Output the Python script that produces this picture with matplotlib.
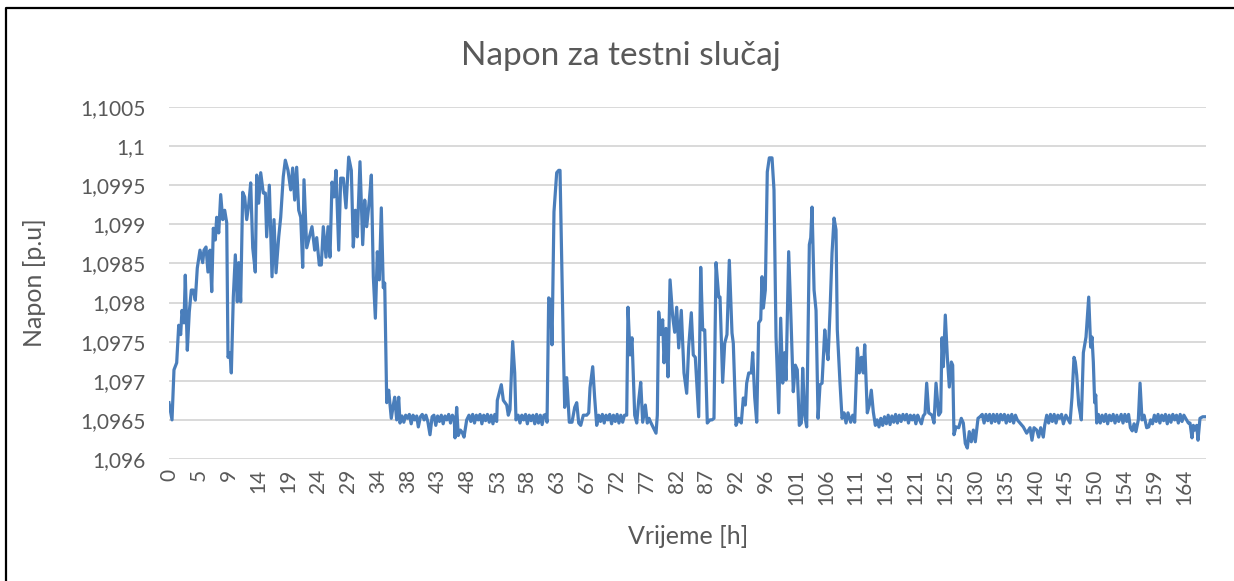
import matplotlib
matplotlib.use("Agg")
import matplotlib.pyplot as plt
from matplotlib.ticker import FuncFormatter, MultipleLocator
from matplotlib.lines import Line2D

# vrijeme [h] i napon [p.u], ocitano sa slike
hours = [
    0.0, 0.49, 0.81, 1.25, 1.58, 1.90, 2.11, 2.44, 2.65, 2.98, 3.30, 3.63, 3.95, 4.28, 4.60,
    5.04, 5.48, 5.69, 6.02, 6.34, 6.67, 6.95, 7.21, 7.53, 7.76, 8.09, 8.41, 8.74, 9.06, 9.39,
    9.60, 9.92, 10.14, 10.46, 10.79, 11.11, 11.34, 11.66, 11.99, 12.31, 12.64, 12.97, 13.29,
    13.62, 14.04, 14.27, 14.59, 14.92, 15.34, 15.67, 15.89, 16.32, 16.76, 17.08, 17.41, 17.85,
    18.17, 18.59, 18.92, 19.36, 19.80, 20.12, 20.45, 20.77, 21.10, 21.43, 21.75, 21.96, 22.40,
    22.82, 23.26, 23.70, 24.03, 24.45, 24.78, 25.10, 25.54, 25.87, 26.19, 26.52, 26.84, 27.17,
    27.61, 27.93, 28.36, 28.79, 29.23, 29.66, 29.98, 30.31, 30.63, 31.07, 31.51, 31.84, 32.16,
    32.59, 32.92, 33.24, 33.57, 33.89, 34.22, 34.54, 34.86, 35.09, 35.42, 35.74, 36.16, 36.49,
    36.72, 37.04, 37.37, 37.58,
    37.9, 38.2, 38.5, 38.8, 39.1, 39.4, 39.7, 40.0, 40.3, 40.56, 40.9, 41.2, 41.5, 41.8, 42.1,
    42.46, 42.8, 43.1, 43.4, 43.7, 44.0, 44.3, 44.6, 44.9, 45.2, 45.5, 45.8, 46.1, 46.4, 46.53,
    46.80, 47.06, 47.4, 47.7, 47.99, 48.43, 48.8, 49.1, 49.4, 49.7, 50.0, 50.3, 50.6, 50.9,
    51.2, 51.5, 51.8, 52.1, 52.4, 52.7, 53.0, 53.31,
    53.41, 54.06, 54.39, 54.94, 55.20, 55.47, 55.91, 56.24, 56.45,
    56.8, 57.1, 57.4, 57.7, 58.0, 58.3, 58.6, 58.9, 59.2, 59.5, 59.8, 60.1, 60.4, 60.7, 61.0,
    61.3, 61.5,
    61.77, 62.10, 62.31, 62.63, 63.07, 63.40, 63.61, 64.14, 64.37, 64.70, 65.12, 65.56, 66.00,
    66.33, 66.65, 66.98, 67.40, 67.95, 68.28, 68.49, 68.93, 69.25, 69.58,
    69.9, 70.2, 70.5, 70.8, 71.1, 71.4, 71.7, 72.0, 72.3, 72.6, 72.9, 73.2, 73.5, 73.8, 74.1,
    74.46, 74.67, 75.00, 75.32, 75.76, 76.09, 76.41, 76.74, 77.06, 77.49, 77.81, 78.09, 78.36,
    78.79, 79.23, 79.44, 79.66, 79.99, 80.31, 80.53, 80.85, 81.18, 81.51, 81.94, 82.27, 82.59,
    82.92, 83.34, 83.78, 84.22, 84.54, 84.97, 85.29, 85.62, 86.17, 86.50, 86.82, 87.15, 87.57,
    88.01, 88.34, 88.66, 88.99, 89.43, 89.64, 90.07, 90.40, 90.77, 91.15, 91.59, 91.80, 92.24,
    92.68, 93.10, 93.43, 93.75, 93.98, 94.31, 94.73, 94.96, 95.28, 95.61, 95.93, 96.26, 96.47,
    96.69, 97.01, 97.33, 97.66, 98.10, 98.42, 98.75, 99.19, 99.51, 99.84, 100.16, 100.38,
    100.81, 101.14, 101.56, 101.89, 102.21, 102.54, 102.87, 103.09, 103.42, 103.74, 104.17,
    104.40, 104.61, 104.94, 105.26, 105.59, 105.91, 106.24, 106.68, 106.89, 107.21, 107.54,
    107.86, 108.19, 108.51, 108.72, 109.16, 109.49, 109.82, 110.14, 110.46, 110.90, 111.23,
    111.55, 111.98, 112.30, 112.63, 112.95, 113.18, 113.60, 113.93, 114.25, 114.58, 114.91,
    115.2, 115.5, 115.8, 116.1, 116.4, 116.7, 117.0, 117.3, 117.6, 117.9, 118.2, 118.5, 118.8,
    119.1, 119.4, 119.7, 120.0, 120.3, 120.6, 120.9, 121.2, 121.5, 121.8, 122.1, 122.4, 122.7,
    122.99, 123.26, 123.59, 124.13, 124.45, 124.78, 125.22, 125.54, 125.75, 125.97, 126.29,
    126.62, 126.94, 127.27, 127.49, 127.70, 128.03, 128.47, 128.89, 129.22, 129.54, 129.87,
    130.19, 130.52, 130.85, 131.17, 131.61, 131.93,
    132.3, 132.6, 132.9, 133.2, 133.5, 133.8, 134.1, 134.4, 134.7, 135.0, 135.3, 135.6, 135.9,
    136.2, 136.5, 136.8, 137.1, 137.4, 137.7, 138.0,
    138.44, 138.98, 139.53, 140.07, 140.39, 140.72, 141.16, 141.48, 141.81, 142.23, 142.46,
    142.79, 143.1, 143.4, 143.7, 144.0, 144.3, 144.6, 144.9, 145.2, 145.5, 145.9,
    146.58, 146.90, 147.23, 147.44, 147.67, 148.00, 148.42, 148.75, 149.18, 149.62, 149.94,
    150.15, 150.37, 150.59, 150.76, 150.92,
    151.2, 151.5, 151.8, 152.1, 152.4, 152.7, 153.0, 153.3, 153.6, 153.9, 154.2, 154.5, 154.9,
    155.2, 155.5, 155.8, 156.1, 156.4, 156.7, 157.0, 157.3, 157.69, 157.97, 158.29, 158.62,
    159.05, 159.38,
    159.7, 160.0, 160.3, 160.6, 160.9, 161.2, 161.5, 161.8, 162.1, 162.4, 162.7, 163.0, 163.3,
    163.6, 163.9, 164.2, 164.5, 164.8, 165.1,
    165.83, 166.10, 166.42, 166.64, 166.86, 167.19, 167.40, 167.72, 168.16, 168.59,
]

napon = [
    1.09672, 1.09650, 1.09714, 1.09723, 1.09771, 1.09759, 1.09790, 1.09774, 1.09835, 1.09739,
    1.09788, 1.09816, 1.09816, 1.09803, 1.09844, 1.09867, 1.09851, 1.09867, 1.09871, 1.09839,
    1.09867, 1.09814, 1.09895, 1.09880, 1.09909, 1.09889, 1.09938, 1.09906, 1.09918, 1.09902,
    1.09730, 1.09736, 1.09710, 1.09807, 1.09861, 1.09801, 1.09851, 1.09801, 1.09941, 1.09935,
    1.09906, 1.09925, 1.09953, 1.09870, 1.09839, 1.09963, 1.09927, 1.09966, 1.09940, 1.09940,
    1.09884, 1.09950, 1.09833, 1.09906, 1.09838, 1.09884, 1.09909, 1.09961, 1.09982, 1.09969,
    1.09944, 1.09972, 1.09931, 1.09973, 1.09918, 1.09909, 1.09845, 1.09957, 1.09870, 1.09883,
    1.09897, 1.09867, 1.09883, 1.09848, 1.09848, 1.09897, 1.09858, 1.09897, 1.09858, 1.09954,
    1.09935, 1.09969, 1.09867, 1.09959, 1.09959, 1.09921, 1.09986, 1.09969, 1.09871, 1.09918,
    1.09884, 1.09980, 1.09874, 1.09931, 1.09897, 1.09931, 1.09963, 1.09833, 1.09780, 1.09865,
    1.09829, 1.09921, 1.09819, 1.09825, 1.09672, 1.09688, 1.09652, 1.09669, 1.09679, 1.09650,
    1.09679, 1.09646,
    1.09655, 1.09647, 1.09656, 1.09652, 1.09657, 1.09645, 1.09656, 1.09650, 1.09655, 1.09641,
    1.09654, 1.09657, 1.09650, 1.09656, 1.09648, 1.09631, 1.09654, 1.09656, 1.09643, 1.09655,
    1.09648, 1.09656, 1.09645, 1.09655, 1.09650, 1.09657, 1.09646, 1.09656, 1.09652, 1.09627,
    1.09666, 1.09630, 1.09637, 1.09634, 1.09628, 1.09650, 1.09656, 1.09648, 1.09657, 1.09646,
    1.09656, 1.09650, 1.09657, 1.09645, 1.09656, 1.09649, 1.09657, 1.09647, 1.09656, 1.09645,
    1.09657, 1.09648,
    1.09675, 1.09695, 1.09675, 1.09669, 1.09656, 1.09663, 1.09750, 1.09710, 1.09650,
    1.09656, 1.09646, 1.09656, 1.09650, 1.09657, 1.09645, 1.09656, 1.09649, 1.09656, 1.09645,
    1.09657, 1.09646, 1.09656, 1.09644, 1.09656, 1.09657, 1.09647,
    1.09806, 1.09803, 1.09746, 1.09916, 1.09966, 1.09969, 1.09969, 1.09748, 1.09666, 1.09704,
    1.09647, 1.09647, 1.09666, 1.09672, 1.09646, 1.09643, 1.09656, 1.09656, 1.09659, 1.09691,
    1.09718, 1.09678, 1.09643,
    1.09656, 1.09648, 1.09657, 1.09646, 1.09656, 1.09650, 1.09657, 1.09645, 1.09656, 1.09648,
    1.09657, 1.09646, 1.09656, 1.09647, 1.09656,
    1.09656, 1.09794, 1.09733, 1.09755, 1.09656, 1.09646, 1.09675, 1.09698, 1.09647, 1.09669,
    1.09646, 1.09652, 1.09647, 1.09640, 1.09633, 1.09656, 1.09788, 1.09759, 1.09778, 1.09723,
    1.09767, 1.09705, 1.09829, 1.09782, 1.09762, 1.09794, 1.09742, 1.09790, 1.09710, 1.09684,
    1.09743, 1.09787, 1.09733, 1.09730, 1.09654, 1.09845, 1.09765, 1.09765, 1.09646, 1.09650,
    1.09650, 1.09652, 1.09851, 1.09807, 1.09807, 1.09698, 1.09748, 1.09759, 1.09854, 1.09761,
    1.09748, 1.09643, 1.09652, 1.09646, 1.09678, 1.09669, 1.09697, 1.09710, 1.09710, 1.09736,
    1.09679, 1.09647, 1.09774, 1.09778, 1.09833, 1.09793, 1.09816, 1.09967, 1.09985, 1.09985,
    1.09944, 1.09756, 1.09659, 1.09780, 1.09697, 1.09736, 1.09701, 1.09865, 1.09790, 1.09686,
    1.09720, 1.09714, 1.09643, 1.09646, 1.09716, 1.09656, 1.09641, 1.09874, 1.09883, 1.09922,
    1.09816, 1.09790, 1.09652, 1.09695, 1.09697, 1.09765, 1.09746, 1.09727, 1.09790, 1.09863,
    1.09908, 1.09893, 1.09765, 1.09697, 1.09652, 1.09659, 1.09646, 1.09659, 1.09647, 1.09656,
    1.09647, 1.09742, 1.09710, 1.09730, 1.09710, 1.09746, 1.09659, 1.09669, 1.09688, 1.09660,
    1.09643,
    1.09650, 1.09641, 1.09652, 1.09643, 1.09654, 1.09645, 1.09656, 1.09644, 1.09655, 1.09647,
    1.09657, 1.09646, 1.09656, 1.09648, 1.09657, 1.09650, 1.09657, 1.09646, 1.09656, 1.09650,
    1.09656, 1.09645, 1.09656, 1.09650, 1.09645, 1.09655,
    1.09658, 1.09697, 1.09659, 1.09656, 1.09646, 1.09697, 1.09656, 1.09660, 1.09755, 1.09718,
    1.09784, 1.09730, 1.09692, 1.09724, 1.09720, 1.09631, 1.09641, 1.09640, 1.09652, 1.09646,
    1.09620, 1.09614, 1.09635, 1.09622, 1.09637, 1.09622, 1.09652, 1.09654,
    1.09657, 1.09646, 1.09657, 1.09649, 1.09657, 1.09646, 1.09657, 1.09648, 1.09657, 1.09646,
    1.09657, 1.09650, 1.09657, 1.09646, 1.09656, 1.09648, 1.09657, 1.09646, 1.09656, 1.09650,
    1.09646, 1.09641, 1.09633, 1.09640, 1.09624, 1.09640, 1.09637, 1.09628, 1.09640, 1.09628,
    1.09643, 1.09656, 1.09646, 1.09657, 1.09648, 1.09657, 1.09646, 1.09656, 1.09652, 1.09657,
    1.09645, 1.09656,
    1.09646, 1.09679, 1.09730, 1.09724, 1.09707, 1.09669, 1.09650, 1.09736, 1.09756, 1.09807,
    1.09743, 1.09756, 1.09724, 1.09672, 1.09682, 1.09646,
    1.09657, 1.09646, 1.09656, 1.09648, 1.09657, 1.09645, 1.09656, 1.09649, 1.09657, 1.09646,
    1.09656, 1.09648, 1.09657, 1.09646, 1.09657, 1.09648, 1.09657, 1.09640, 1.09636, 1.09645,
    1.09635, 1.09650, 1.09697, 1.09650, 1.09656, 1.09640, 1.09641,
    1.09650, 1.09645, 1.09656, 1.09648, 1.09657, 1.09646, 1.09656, 1.09649, 1.09657, 1.09645,
    1.09656, 1.09647, 1.09657, 1.09650, 1.09656, 1.09646, 1.09657, 1.09648, 1.09656,
    1.09646, 1.09646, 1.09627, 1.09643, 1.09637, 1.09643, 1.09624, 1.09652, 1.09654, 1.09654,
]

x_labels = ["0", "5", "9", "14", "19", "24", "29", "34", "38", "43", "48", "53", "58",
            "63", "67", "72", "77", "82", "87", "92", "96", "101", "106", "111", "116",
            "121", "125", "130", "135", "140", "145", "150", "154", "159", "164"]
label_step = 4.857  # razmak oznaka na osi [h]

TEXT = "#595959"
LINE = "#4A7EBB"

plt.rcParams["font.family"] = ["Lato", "DejaVu Sans"]

fig = plt.figure(figsize=(12.34, 5.81), dpi=100)
ax = fig.add_axes([169 / 1234, 1 - 459 / 581, (1206 - 169) / 1234, (459 - 107) / 581])

ax.plot(hours, napon, color=LINE, lw=2.3, solid_joinstyle="round")

ax.set_xlim(0, 168.7)
ax.set_ylim(1.096, 1.1005)
ax.yaxis.set_major_locator(MultipleLocator(0.0005))
ax.yaxis.set_major_formatter(FuncFormatter(
    lambda v, p: f"{v:.4f}".rstrip("0").rstrip(".").replace(".", ",")))
ax.set_xticks([k * label_step for k in range(len(x_labels))])
ax.set_xticklabels(x_labels, rotation=90)

ax.grid(axis="y", color="#D9D9D9", lw=1.4)
ax.set_axisbelow(True)
for s in ax.spines.values():
    s.set_visible(False)
ax.tick_params(axis="both", length=0, labelsize=15, colors=TEXT)
ax.tick_params(axis="y", pad=17)
ax.tick_params(axis="x", pad=7)

fig.text(621 / 1234, 1 - 56 / 581, "Napon za testni slučaj", fontsize=24,
         color=TEXT, ha="center", va="center")
fig.text(35 / 1234, 1 - 283 / 581, "Napon [p.u]", fontsize=18, color=TEXT,
         rotation=90, ha="center", va="center")
fig.text(688 / 1234, 1 - 537 / 581, "Vrijeme [h]", fontsize=18, color=TEXT,
         ha="center", va="center")

# okvir grafikona (vidljivi lijevi i gornji rub)
fig.add_artist(Line2D([6 / 1234, 6 / 1234, 1.0], [0.0, 1 - 8 / 581, 1 - 8 / 581],
                      transform=fig.transFigure, color="black", lw=1.6))

fig.savefig("out.png", dpi=100)
